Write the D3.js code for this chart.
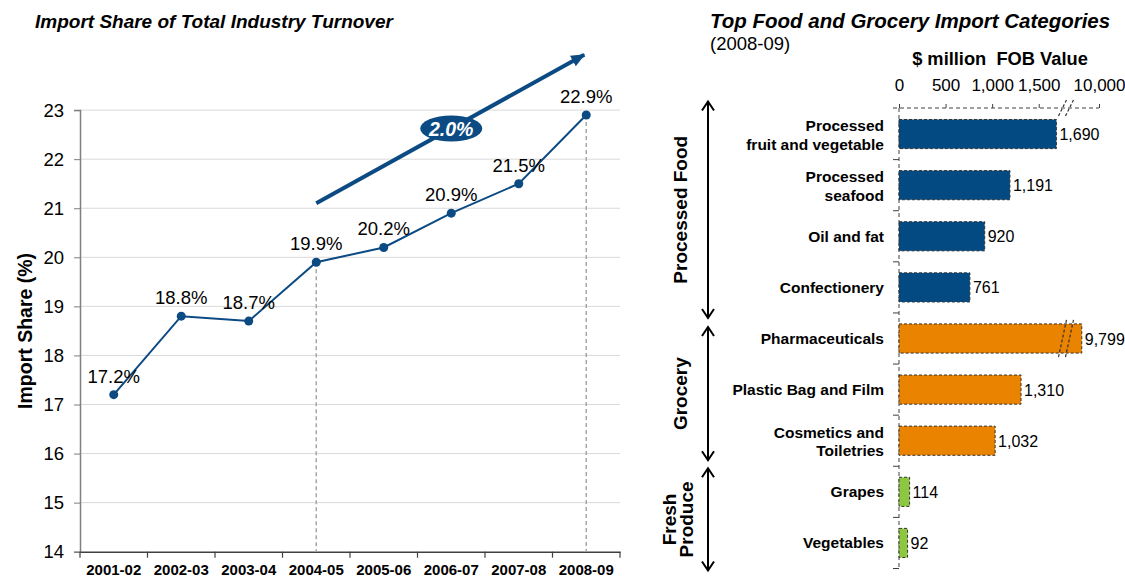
<!DOCTYPE html>
<html>
<head>
<meta charset="utf-8">
<script src="https://cdn.jsdelivr.net/npm/d3@7"></script>
<style>
  body { margin: 0; background: #fff; font-family: Arial, "Liberation Sans", sans-serif; }
</style>
</head>
<body>
<div id="chart"></div>
<script>
// ---- left chart data
var years = ["2001-02", "2002-03", "2003-04", "2004-05", "2005-06", "2006-07", "2007-08", "2008-09"];
var importShare = [17.2, 18.8, 18.7, 19.9, 20.2, 20.9, 21.5, 22.9];
var shareTicks = [14, 15, 16, 17, 18, 19, 20, 21, 22, 23];
var dropLineYears = ["2004-05", "2008-09"];
var trendText = "2.0%";
var trendFrom = {year: "2004-05", value: 21.1};
var trendTo = {year: "2008-09", value: 24.15};

// ---- right chart data
var categories = ["Processed\nfruit and vegetable", "Processed\nseafood", "Oil and fat", "Confectionery",
    "Pharmaceuticals", "Plastic Bag and Film", "Cosmetics and\nToiletries", "Grapes", "Vegetables"];
var fobValues = [1690, 1191, 920, 761, 9799, 1310, 1032, 114, 92];
var categoryGroup = ["food", "food", "food", "food", "grocery", "grocery", "grocery", "fresh", "fresh"];
var groups = ["food", "grocery", "fresh"];
var groupLabels = [["Processed Food"], ["Grocery"], ["Fresh", "Produce"]];
var fobTicks = [0, 500, 1000, 1500, 10000];

var W = 1125, H = 577;
var blue = "#0b4a82";
var groupColor = {food: "#034a83", grocery: "#e98300", fresh: "#8dc63f"};

var svg = d3.select("#chart").append("svg")
    .attr("width", W).attr("height", H)
    .style("font-family", "Arial, 'Liberation Sans', sans-serif");

// ================= LEFT: line chart =================
var xs = d3.scaleBand().domain(years).range([80, 620]);
var ys = d3.scaleLinear().domain([14, 23]).range([551.7, 110.1]);
var cx = function (yr) { return xs(yr) + xs.bandwidth() / 2; };

svg.append("text")
    .attr("x", 35).attr("y", 28)
    .style("font-size", "19px").style("font-weight", "bold").style("font-style", "italic")
    .text("Import Share of Total Industry Turnover");

// gridlines
svg.append("g").selectAll("line")
    .data(shareTicks.filter(function (d) { return d > 14; }))
    .enter().append("line")
    .attr("x1", 80).attr("x2", 620)
    .attr("y1", function (d) { return ys(d); })
    .attr("y2", function (d) { return ys(d); })
    .attr("stroke", "#d9d9d9").attr("stroke-width", 1);

// y axis
var yAxis = svg.append("g")
    .attr("transform", "translate(80,0)")
    .call(d3.axisLeft(ys).tickValues(shareTicks).tickSize(6).tickPadding(10));
yAxis.select(".domain").attr("stroke", "#7f7f7f").attr("stroke-width", 1.5);
yAxis.selectAll(".tick line").attr("stroke", "#7f7f7f");
yAxis.selectAll("text").style("font-size", "18.5px").attr("fill", "#000").attr("font-family", null);

svg.append("text")
    .attr("transform", "translate(32," + ((ys(14) + ys(23)) / 2) + ") rotate(-90)")
    .attr("text-anchor", "middle")
    .style("font-size", "19.5px").style("font-weight", "bold")
    .text("Import Share (%)");

// x axis
var xAxis = svg.append("g")
    .attr("transform", "translate(0," + ys(14) + ")")
    .call(d3.axisBottom(xs).tickSize(0).tickPadding(12.5));
xAxis.select(".domain").attr("stroke", "#404040").attr("stroke-width", 1.5);
xAxis.selectAll("text").style("font-size", "15px").style("font-weight", "bold").attr("fill", "#000").attr("font-family", null);
xAxis.selectAll(".bound")
    .data(d3.range(years.length + 1))
    .enter().append("line")
    .attr("x1", function (i) { return xs.range()[0] + i * xs.step(); })
    .attr("x2", function (i) { return xs.range()[0] + i * xs.step(); })
    .attr("y1", 0).attr("y2", 6)
    .attr("stroke", "#404040").attr("stroke-width", 1.2);

// drop lines
svg.append("g").selectAll("line")
    .data(dropLineYears)
    .enter().append("line")
    .attr("x1", cx).attr("x2", cx)
    .attr("y1", function (yr) { return ys(importShare[years.indexOf(yr)]); })
    .attr("y2", ys(14))
    .attr("stroke", "#a6a6a6").attr("stroke-width", 1.5).attr("stroke-dasharray", "4,3");

// line + points
var line = d3.line()
    .x(function (d, i) { return cx(years[i]); })
    .y(function (d) { return ys(d); });
svg.append("path")
    .datum(importShare)
    .attr("d", line)
    .attr("fill", "none").attr("stroke", blue).attr("stroke-width", 2);
svg.append("g").selectAll("circle")
    .data(importShare)
    .enter().append("circle")
    .attr("cx", function (d, i) { return cx(years[i]); })
    .attr("cy", function (d) { return ys(d); })
    .attr("r", 4.5).attr("fill", blue);
svg.append("g").selectAll("text")
    .data(importShare)
    .enter().append("text")
    .attr("x", function (d, i) { return cx(years[i]); })
    .attr("y", function (d) { return ys(d) - 12; })
    .attr("text-anchor", "middle")
    .style("font-size", "18.5px")
    .text(function (d) { return d.toFixed(1) + "%"; });

// trend arrow
svg.append("defs").append("marker")
    .attr("id", "head").attr("markerUnits", "userSpaceOnUse")
    .attr("viewBox", "0 0 14 12").attr("refX", 13).attr("refY", 6)
    .attr("markerWidth", 14).attr("markerHeight", 12).attr("orient", "auto")
    .append("path").attr("d", "M0,0 L14,6 L0,12 Z").attr("fill", blue);
var t0 = [cx(trendFrom.year), ys(trendFrom.value)], t1 = [cx(trendTo.year), ys(trendTo.value)];
svg.append("line")
    .attr("x1", t0[0]).attr("y1", t0[1]).attr("x2", t1[0] - 2).attr("y2", t1[1] + 1)
    .attr("stroke", blue).attr("stroke-width", 4).attr("marker-end", "url(#head)");
var tm = [t0[0] + (t1[0] - t0[0]) * 0.5, t0[1] + (t1[1] - t0[1]) * 0.5];
svg.append("ellipse")
    .attr("cx", tm[0]).attr("cy", tm[1]).attr("rx", 31).attr("ry", 13)
    .attr("fill", blue);
svg.append("text")
    .attr("x", tm[0]).attr("y", tm[1] + 7)
    .attr("text-anchor", "middle").attr("fill", "#fff")
    .style("font-size", "19.5px").style("font-weight", "bold").style("font-style", "italic")
    .text(trendText);

// ================= RIGHT: bar chart =================
svg.append("text")
    .attr("x", 710).attr("y", 28)
    .style("font-size", "20.5px").style("font-weight", "bold").style("font-style", "italic")
    .text("Top Food and Grocery Import Categories");
svg.append("text")
    .attr("x", 710).attr("y", 50)
    .style("font-size", "18.5px")
    .text("(2008-09)");
svg.append("text")
    .attr("x", 1000).attr("y", 65).attr("text-anchor", "middle")
    .attr("xml:space", "preserve")
    .style("font-size", "18.3px").style("font-weight", "bold")
    .text("$ million  FOB Value");

// broken value scale
var xb = d3.scaleLinear().domain([0, 1750, 9650, 10000]).range([899, 1062, 1069, 1099]);
var breakX = 1065.5;
var yb = d3.scaleBand().domain(categories).range([108.5, 568.5]).paddingInner(0.43).paddingOuter(0.215);

var topAxis = svg.append("g")
    .attr("transform", "translate(0,108)")
    .call(d3.axisTop(xb).tickValues(fobTicks).tickFormat(d3.format(",")).tickSize(4).tickPadding(13));
topAxis.select(".domain").attr("stroke", "#404040").attr("stroke-dasharray", "4,3").attr("d", "M893,0H1099");
topAxis.selectAll(".tick line").attr("stroke", "#404040");
topAxis.selectAll("text").style("font-size", "17px").attr("fill", "#000").attr("font-family", null);

// left dashed axis with ticks at the category boundaries
var bounds = d3.range(categories.length + 1).map(function (i) { return yb.range()[0] + i * yb.step(); });
svg.append("line")
    .attr("x1", xb(0)).attr("x2", xb(0)).attr("y1", 108).attr("y2", yb.range()[1])
    .attr("stroke", "#404040").attr("stroke-dasharray", "4,3");
svg.append("g").selectAll("line")
    .data(bounds.slice(1))
    .enter().append("line")
    .attr("x1", xb(0) - 6).attr("x2", xb(0))
    .attr("y1", function (d) { return d; }).attr("y2", function (d) { return d; })
    .attr("stroke", "#404040");

// bars
svg.append("g").selectAll("rect")
    .data(fobValues)
    .enter().append("rect")
    .attr("x", xb(0))
    .attr("y", function (d, i) { return yb(categories[i]); })
    .attr("width", function (d) { return xb(d) - xb(0); })
    .attr("height", yb.bandwidth())
    .attr("fill", function (d, i) { return groupColor[categoryGroup[i]]; })
    .attr("stroke", "#333").attr("stroke-width", 1).attr("stroke-dasharray", "3,2");

// break marks: axis and any bar crossing the break
function breakMark(yTop, yBot) {
    [-3, 4].forEach(function (o) {
        svg.append("line")
            .attr("x1", breakX + o - 4).attr("y1", yBot)
            .attr("x2", breakX + o + 4).attr("y2", yTop)
            .attr("stroke", "#333").attr("stroke-width", 1.2).attr("stroke-dasharray", "3,2");
    });
}
breakMark(100, 116);
fobValues.forEach(function (v, i) {
    if (v > xb.domain()[1]) breakMark(yb(categories[i]) - 4, yb(categories[i]) + yb.bandwidth() + 4);
});

// value labels
svg.append("g").selectAll("text")
    .data(fobValues)
    .enter().append("text")
    .attr("x", function (d) { return xb(d) + 3; })
    .attr("y", function (d, i) { return yb(categories[i]) + yb.bandwidth() / 2 + 6; })
    .style("font-size", "16px")
    .text(d3.format(","));

// category labels
var catText = svg.append("g").selectAll("text")
    .data(categories)
    .enter().append("text")
    .attr("text-anchor", "end")
    .style("font-size", "15.5px").style("font-weight", "bold");
catText.each(function (c) {
    var lines = c.split("\n");
    var mid = yb(c) + yb.bandwidth() / 2;
    var first = mid + 5.5 - (lines.length - 1) * 8.5;
    d3.select(this).selectAll("tspan")
        .data(lines)
        .enter().append("tspan")
        .attr("x", 884)
        .attr("y", function (l, k) { return first + k * 18.5; })
        .text(function (l) { return l; });
});

// group brackets (double headed arrows) and labels
var bracketPad = {food: [-7, 5], grocery: [14, -6], fresh: [2, 2]};
groups.forEach(function (g, gi) {
    var idx = categoryGroup.map(function (c, i) { return c === g ? i : -1; }).filter(function (i) { return i >= 0; });
    var top = bounds[idx[0]] + bracketPad[g][0];
    var bot = bounds[idx[idx.length - 1] + 1] + bracketPad[g][1];
    var ax = 708;
    var gg = svg.append("g").attr("stroke", "#000").attr("stroke-width", 2).attr("fill", "none");
    gg.append("line").attr("x1", ax).attr("x2", ax).attr("y1", top).attr("y2", bot);
    gg.append("path").attr("d", "M" + (ax - 6) + "," + (top + 9) + "L" + ax + "," + top + "L" + (ax + 6) + "," + (top + 9));
    gg.append("path").attr("d", "M" + (ax - 6) + "," + (bot - 9) + "L" + ax + "," + bot + "L" + (ax + 6) + "," + (bot - 9));

    var lines = groupLabels[gi];
    var base = lines.length > 1 ? 693 : 687;
    var lab = svg.append("text")
        .attr("transform", "translate(0," + ((top + bot) / 2) + ") rotate(-90)")
        .attr("text-anchor", "middle")
        .style("font-size", "19px").style("font-weight", "bold");
    lab.selectAll("tspan")
        .data(lines)
        .enter().append("tspan")
        .attr("x", 0)
        .attr("y", function (l, k) { return base - (lines.length - 1 - k) * 17; })
        .text(function (l) { return l; });
});
</script>
</body>
</html>
